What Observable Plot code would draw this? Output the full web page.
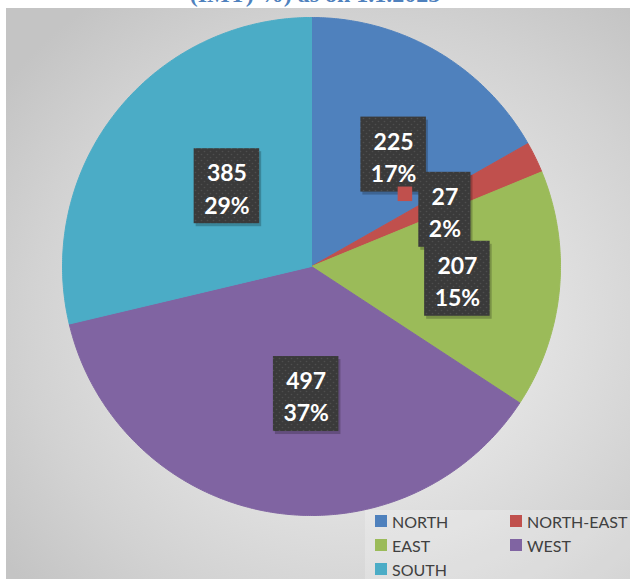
<!DOCTYPE html>
<html>
<head>
<meta charset="utf-8">
<script src="https://cdn.jsdelivr.net/npm/d3@7"></script>
<script src="https://cdn.jsdelivr.net/npm/@observablehq/plot@0.6"></script>
<style>
  body { margin: 0; background: #fff; }
  #wrap { position: relative; width: 630px; height: 579px; overflow: hidden; background: #fff; }
  #bg { position: absolute; left: 6px; top: 8px; right: 0; bottom: 0;
        background: radial-gradient(ellipse 70% 70% at 56% 55%, #ececec 0%, #e3e3e3 40%, #d2d2d2 75%, #c4c4c4 100%); }
  #title { position: absolute; left: 0; top: -18px; width: 630px; text-align: center;
           font: bold 24px/24px "Liberation Serif", serif; color: #4F81BD; white-space: nowrap; }
  #chart { position: absolute; left: 0; top: 0; }
  #legendBox { position: absolute; left: 365px; top: 510px; width: 265px; height: 69px;
               background: rgba(255,255,255,0.22); }
  #legend { position: absolute; left: 375px; top: 509px; width: 270px; }
  .lg-swatches { display: block !important; min-height: 0 !important; }
  .lg-swatch { display: inline-flex; align-items: center; width: 135px; height: 24px; margin-right: 0 !important; }
  .lg-swatch > svg { margin-right: 5px !important; }
</style>
</head>
<body>
<div id="wrap">
  <div id="bg"></div>
  <div id="legendBox"></div>
  <div id="title"></div>
  <div id="chart"></div>
  <div id="legend"></div>
</div>
<script>
// ---- data ----
const regions = ["NORTH", "NORTH-EAST", "EAST", "WEST", "SOUTH"];
const counts = [225, 27, 207, 497, 385];
const sliceColors = ["#4F81BD", "#C0504D", "#9BBB59", "#8064A2", "#4BACC6"];
const titleText = "(IMT) %) as on 1.1.2025";

// ---- derived ----
const total = d3.sum(counts);
const table = regions.map((r, i) => ({region: r, value: counts[i], pct: Math.round(counts[i] / total * 100) + "%"}));
const arcs = d3.pie().sort(null).value(d => d.value)(table);

const outline = [];
for (const a of arcs) {
  const n = Math.max(2, Math.ceil((a.endAngle - a.startAngle) / (Math.PI / 360)));
  outline.push({region: a.data.region, x: 0, y: 0});
  for (let k = 0; k <= n; k++) {
    const t = a.startAngle + (a.endAngle - a.startAngle) * k / n;
    outline.push({region: a.data.region, x: Math.sin(t), y: Math.cos(t)});
  }
  outline.push({region: a.data.region, x: 0, y: 0});
}

const W = 630, H = 579, mL = 62, mR = 70, mT = 17, mB = 64;
const ppu = (W - mL - mR) / 2; // pixels per data unit
const labelR = 0.52;
const labels = arcs.map(a => {
  const m = (a.startAngle + a.endAngle) / 2;
  return {...a.data, x: labelR * Math.sin(m), y: labelR * Math.cos(m)};
});

const labelFont = "bold 23px Lato";
const ctx = document.createElement("canvas").getContext("2d");
ctx.font = labelFont;
const measure = s => ctx.measureText(s).width;

const defsMark = () => {
  const defs = d3.create("svg:defs");
  const p = defs.append("pattern").attr("id", "dots").attr("width", 6).attr("height", 6)
    .attr("patternUnits", "userSpaceOnUse");
  p.append("rect").attr("width", 6).attr("height", 6).attr("fill", "#3a3a3a");
  p.append("circle").attr("cx", 1.5).attr("cy", 1.5).attr("r", 0.8).attr("fill", "#4e4e4e");
  p.append("circle").attr("cx", 4.5).attr("cy", 4.5).attr("r", 0.8).attr("fill", "#4e4e4e");
  return defs.node();
};

const marks = [
  defsMark,
  Plot.line(outline, {x: "x", y: "y", z: "region", fill: "region", stroke: "region", strokeWidth: 1, curve: "linear"})
];

const LDX = 17;
for (const l of labels) {
  const w = Math.max(measure(String(l.value)), measure(l.pct)) + 20;
  const box = [{x1: l.x - w / 2 / ppu, x2: l.x + w / 2 / ppu, y1: l.y - 37.5 / ppu, y2: l.y + 37.5 / ppu}];
  marks.push(Plot.rect(box, {x1: "x1", x2: "x2", y1: "y1", y2: "y2", dx: LDX + 2, dy: 3, fill: "#000", fillOpacity: 0.22}));
  marks.push(Plot.rect(box, {x1: "x1", x2: "x2", y1: "y1", y2: "y2", dx: LDX, fill: "url(#dots)"}));
  if (l.region === "NORTH-EAST") {
    marks.push(Plot.dot([l], {x: "x", y: "y", symbol: "square", r: 8.2, fill: "region", dx: LDX - 40, dy: -16}));
  }
  marks.push(Plot.text([l], {
    x: "x", y: "y", text: d => d.value + "\n" + d.pct, dx: LDX, dy: 1,
    fill: "white", fontSize: 23, fontWeight: "bold", fontFamily: "Lato", lineHeight: 1.4
  }));
}

const chart = Plot.plot({
  width: W, height: H,
  marginLeft: mL, marginRight: mR, marginTop: mT, marginBottom: mB,
  x: {domain: [-1, 1], axis: null},
  y: {domain: [-1, 1], axis: null},
  color: {domain: regions, range: sliceColors},
  style: {background: "transparent", overflow: "visible"},
  marks
});
document.getElementById("chart").appendChild(chart);

document.getElementById("title").textContent = titleText;

const legend = Plot.legend({
  color: {type: "ordinal", domain: regions, range: sliceColors},
  swatchSize: 12,
  className: "lg",
  style: {fontFamily: "Lato", fontSize: "16px", color: "#404040", margin: 0}
});
document.getElementById("legend").appendChild(legend);
</script>
</body>
</html>
